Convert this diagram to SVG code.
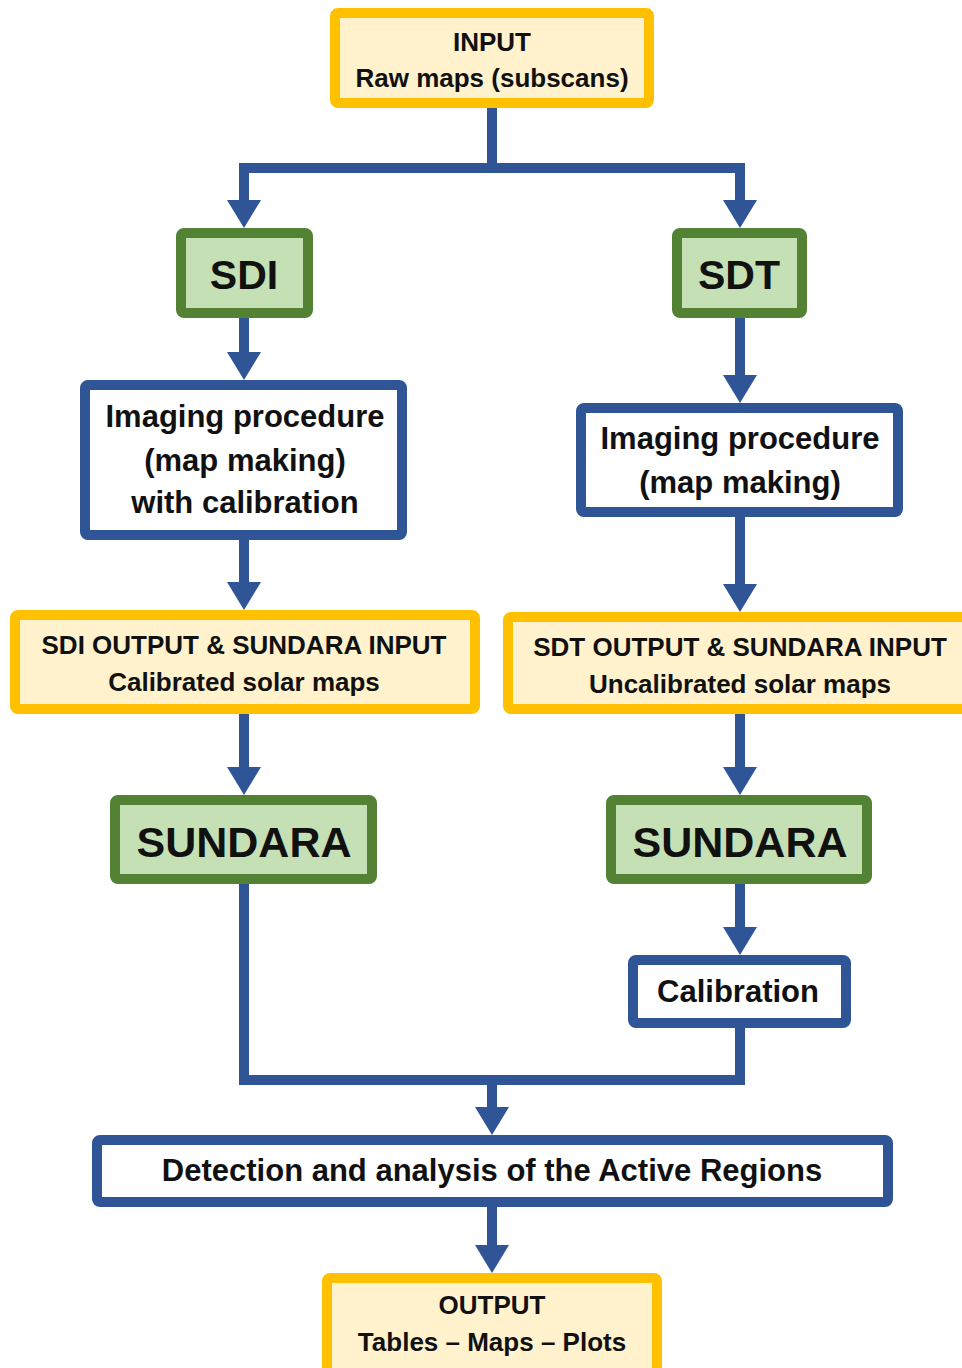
<svg xmlns="http://www.w3.org/2000/svg" width="962" height="1368" viewBox="0 0 962 1368">
<style>
text{font-family:"Liberation Sans",Arial,sans-serif;font-weight:bold;fill:#111;text-anchor:middle}
.y{fill:#FFF2CC;stroke:#FFC000;stroke-width:10}
.g{fill:#C5E0B4;stroke:#548235;stroke-width:10}
.b{fill:#FFFFFF;stroke:#2F5597;stroke-width:10}
.c{fill:none;stroke:#2F5597;stroke-width:10;stroke-linejoin:miter}
.a{marker-end:url(#ah)}
.s26{font-size:26px}.s31{font-size:31px}.s41{font-size:41px}.s43{font-size:43px}
</style>
<defs>
<marker id="ah" markerUnits="userSpaceOnUse" markerWidth="28" markerHeight="34" refX="0" refY="17" orient="auto">
<path d="M0,0 L28,17 L0,34 z" fill="#2F5597"/>
</marker>
</defs>
<g id="connectors">
<path class="c a" d="M492,108 V168 H244 V200"/>
<path class="c a" d="M492,168 H740 V200"/>
<path class="c a" d="M244,318 V352"/>
<path class="c a" d="M244,540 V582"/>
<path class="c a" d="M244,714 V767"/>
<path class="c" d="M244,884 V1080 H492"/>
<path class="c" d="M740,1028 V1080 H487"/>
<path class="c a" d="M492,1075 V1107"/>
<path class="c a" d="M740,318 V375"/>
<path class="c a" d="M740,517 V584"/>
<path class="c a" d="M740,714 V767"/>
<path class="c a" d="M740,884 V927"/>
<path class="c a" d="M492,1207 V1245"/>
</g>
<g id="input"><rect class="y" x="335" y="13" width="314" height="90" rx="3"/>
<text class="s26" x="492" y="51">INPUT</text><text class="s26" x="492" y="87">Raw maps (subscans)</text></g>
<g id="sdi"><rect class="g" x="181" y="233" width="127" height="80" rx="3"/><text class="s41" x="244" y="289">SDI</text></g>
<g id="sdt"><rect class="g" x="677" y="233" width="125" height="80" rx="3"/><text class="s41" x="739" y="289">SDT</text></g>
<g id="imaging-left"><rect class="b" x="85" y="385" width="317" height="150" rx="3"/>
<text class="s31" x="245" y="427">Imaging procedure</text><text class="s31" x="245" y="471">(map making)</text><text class="s31" x="245" y="513">with calibration</text></g>
<g id="imaging-right"><rect class="b" x="581" y="408" width="317" height="104" rx="3"/>
<text class="s31" x="740" y="449">Imaging procedure</text><text class="s31" x="740" y="493">(map making)</text></g>
<g id="sdi-output"><rect class="y" x="15" y="615" width="460" height="94" rx="3"/>
<text class="s26" x="244" y="654">SDI OUTPUT &amp; SUNDARA INPUT</text><text class="s26" x="244" y="691">Calibrated solar maps</text></g>
<g id="sdt-output"><rect class="y" x="508" y="617" width="470" height="92" rx="3"/>
<text class="s26" x="740" y="656">SDT OUTPUT &amp; SUNDARA INPUT</text><text class="s26" x="740" y="693">Uncalibrated solar maps</text></g>
<g id="sundara-left"><rect class="g" x="115" y="800" width="257" height="79" rx="3"/><text class="s43" x="244" y="857">SUNDARA</text></g>
<g id="sundara-right"><rect class="g" x="611" y="800" width="256" height="79" rx="3"/><text class="s43" x="740" y="857">SUNDARA</text></g>
<g id="calibration"><rect class="b" x="633" y="960" width="213" height="63" rx="3"/><text class="s31" x="738" y="1002">Calibration</text></g>
<g id="detection"><rect class="b" x="97" y="1140" width="791" height="62" rx="3"/><text class="s31" x="492" y="1181">Detection and analysis of the Active Regions</text></g>
<g id="output"><rect class="y" x="327" y="1278" width="330" height="95" rx="3"/>
<text class="s26" x="492" y="1314">OUTPUT</text><text class="s26" x="492" y="1351">Tables – Maps – Plots</text></g>
</svg>
